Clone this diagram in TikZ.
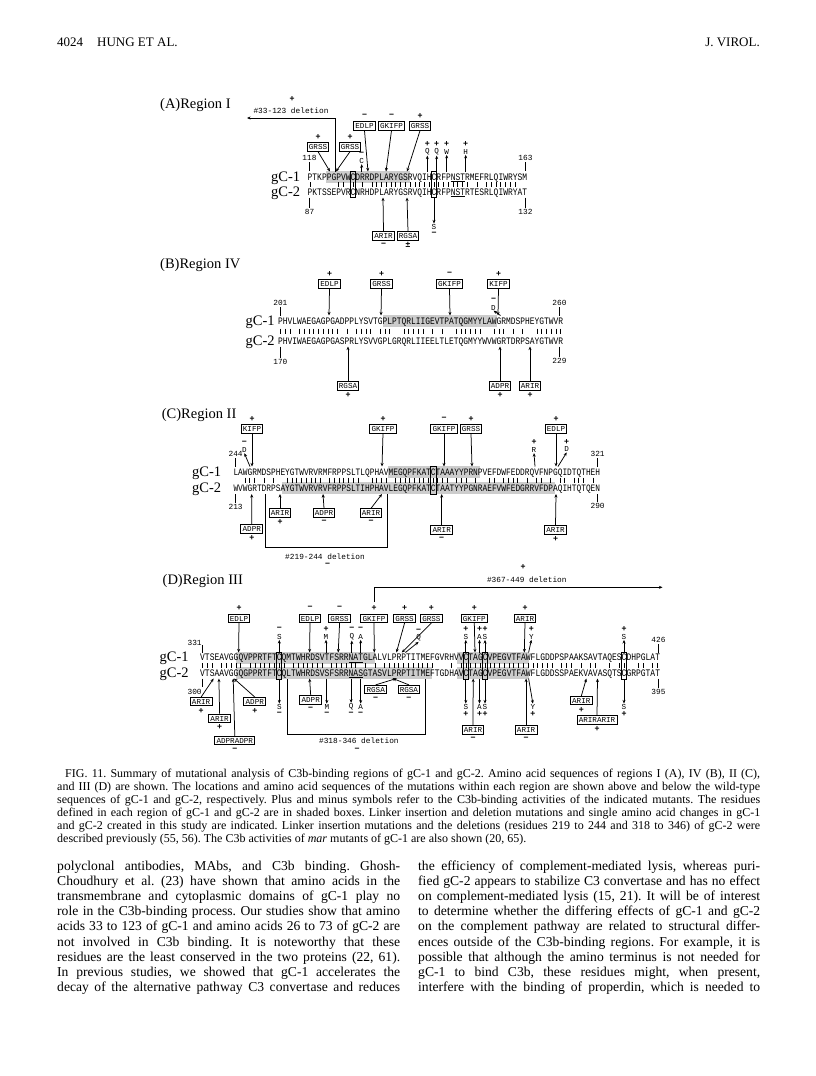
\documentclass[tikz,border=0pt]{standalone}
\usepackage{fontspec}
\usepackage{graphicx}
\setmainfont{Liberation Serif}
\newfontfamily\seqfont{Liberation Mono}
\newfontfamily\sgnfam{Liberation Sans}
\usetikzlibrary{arrows.meta}
\frenchspacing

\newcommand\boxfont{\seqfont\fontsize{7.6}{8}\selectfont}
\newcommand\mutfont{\seqfont\fontsize{7.6}{8}\selectfont}
\newcommand\numfont{\seqfont\fontsize{7.8}{8}\selectfont}
\newcommand\sgnfont{\sgnfam\bfseries\fontsize{8.5}{9}\selectfont}
\newcommand\gcfont{\fontsize{14.5}{15}\selectfont}
\newcommand\ttlfont{\fontsize{14.5}{16}\selectfont}
\newcommand\capfont{\fontsize{12}{13}\selectfont}
\newcommand\bodyfont{\fontsize{13.6}{15}\selectfont}
\newcommand\hdrfont{\fontsize{13}{14}\selectfont}

\tikzset{
  mbox/.style={draw, line width=0.9pt, inner xsep=1.8pt, inner ysep=1.5pt, font=\boxfont, text height=5.4pt, text depth=0pt},
  sgn/.style={inner sep=0pt, font=\sgnfont},
  mut/.style={inner sep=0.4pt, font=\mutfont},
  arr/.style={line width=0.75pt, -{Stealth[length=3.6pt,width=3pt]}},
  ln/.style={line width=0.75pt},
  num/.style={inner sep=0pt, font=\numfont},
  gclbl/.style={inner sep=0pt, anchor=base west, font=\gcfont},
  ttl/.style={inner sep=0pt, anchor=west, font=\ttlfont},
  seqtxt/.style={inner sep=0pt, font=\seqfont},
  idbar/.style={line width=0.6pt},
  shade/.style={fill=black!20},
  cbox/.style={draw, line width=0.6pt},
  uline/.style={line width=0.5pt},
  captxt/.style={inner sep=0pt, anchor=base west, font=\capfont},
  bodytxt/.style={inner sep=0pt, anchor=base west, font=\bodyfont},
  hdr/.style={inner sep=0pt, font=\hdrfont},
}

\ExplSyntaxOn
\tl_new:N \l__rs_x_tl
\tl_new:N \l__rs_y_tl
\tl_new:N \l__rs_f_tl
\NewDocumentCommand \seqpair { m m m m m m m }
 {
  \tl_set:Nx \l__rs_f_tl { \fp_eval:n { #3 / 0.6 } }
  \node[seqtxt,~anchor=base~west] (#1a) at (#2, #4 + 3.1) { \fontsize{\l__rs_f_tl}{10}\selectfont \scalebox{1}[1.25]{#6} };
  \node[seqtxt,~anchor=base~west] (#1b) at (#2, #5 + 3.1) { \fontsize{\l__rs_f_tl}{10}\selectfont \scalebox{1}[1.25]{#7} };
  \tl_set:Nx \l__rs_y_tl { \fp_eval:n { (#4 + #5) / 2 - 2.5 } }
  \int_step_inline:nn { \str_count:n {#6} }
   {
    \str_if_eq:eeT { \str_item:nn {#6} {##1} } { \str_item:nn {#7} {##1} }
     {
      \tl_set:Nx \l__rs_x_tl { \fp_eval:n { #2 + (##1 - 0.5) * #3 } }
      \draw[idbar] (\l__rs_x_tl, \l__rs_y_tl) -- ++(0,5);
     }
   }
 }
\ExplSyntaxOff

\newcommand\upbox[7]{%
  \node[mbox] (#1) at (#2,#3) {#4};
  \node[sgn] (#1s) at (#2,#3-10) {#5};
  \coordinate (#1t) at (#6,#7);
  \draw[arr] (#1.south) -- (#1t);}
\newcommand\downbox[7]{%
  \node[mbox] (#1) at (#2,#3) {#4};
  \node[sgn] (#1s) at (#2,#3+8.9) {#5};
  \coordinate (#1t) at (#6,#7);
  \draw[arr] (#1.north) -- (#1t);}
\newcommand\upmut[7]{%
  \node[mut] (#1) at (#2,#3) {#4};
  \node[sgn] (#1s) at (#2,#3-7.5) {#5};
  \coordinate (#1t) at (#6,#7);
  \draw[arr] (#1t) -- (#1.south);}
\newcommand\downmut[7]{%
  \node[mut] (#1) at (#2,#3) {#4};
  \node[sgn] (#1s) at (#2,#3+7) {#5};
  \coordinate (#1t) at (#6,#7);
  \draw[arr] (#1t) -- (#1.north);}
\newcommand\numup[5]{%
  \node[num] (#1) at (#2,#3) {#4};
  \coordinate (#1e) at (#2,#5);
  \draw[ln] ([yshift=-1.3pt]#1.south) -- (#1e);}
\newcommand\numdown[5]{%
  \node[num] (#1) at (#2,#3) {#4};
  \coordinate (#1e) at (#2,#5);
  \draw[ln] (#1e) -- ([yshift=1.3pt]#1.north);}

\begin{document}
\begin{tikzpicture}[x=1pt,y=-1pt]
\useasboundingbox (0,0) rectangle (816,1076);
\fill[white] (0,0) rectangle (816,1076);

% ---------------- header
\node[hdr, anchor=base west] (h1) at (57,46) {4024};
\node[hdr, anchor=base west] (h2) at (97,46) {HUNG ET AL.};
\node[hdr, anchor=base east] (h3) at (760,46) {J. VIROL.};

% ================= Region I
\node[ttl] (tA) at (160,105) {(A)Region I};
\fill[shade] (326,171) rectangle (410,183);
\seqpair{IS}{307.5}{4.77}{177}{192}{PTKPPGPVWCDRRDPLARYGSRVQIHCRFPNSTRMEFRLQIWRYSM}{PKTSSEPVRCNRHDPLARYGSRVQIHCRFPNSTRTESRLQIWRYAT}
\draw[cbox] (350.4,171) rectangle (355.2,197.5);
\draw[cbox] (431.5,171) rectangle (436.3,197.5);
\draw[uline] (450.6,181.2) -- (464.9,181.2);
\draw[uline] (450.6,196.2) -- (464.9,196.2);
\node[gclbl] (Ig1) at (271,181) {gC-1};
\node[gclbl] (Ig2) at (271,196) {gC-2};
\numup{In1}{309.5}{158}{118}{171}
\numup{In2}{525.5}{158}{163}{171}
\numdown{In3}{309.5}{212}{87}{197.5}
\numdown{In4}{525.5}{212}{132}{197.5}
\node[sgn] (Ids) at (292,99) {+};
\node[num] (Idt) at (291,111) {\#33-123 deletion};
\coordinate (IdA) at (335,171.5);
\coordinate (IdB) at (247,118);
\draw[arr] (IdA) |- (IdB);
\upbox{Ib1}{364.5}{126}{EDLP}{−}{368}{171.5}
\upbox{Ib2}{391.5}{126}{GKIFP}{−}{386}{171.5}
\upbox{Ib3}{420}{126}{GRSS}{+}{407}{171.5}
\upbox{Ib4}{318}{147}{GRSS}{+}{330}{171.5}
\upbox{Ib5}{350}{147}{GRSS}{+}{336}{171.5}
\upmut{Im1}{361.7}{161}{C}{−}{361.7}{171.5}
\upmut{Im2}{427.3}{151.7}{Q}{+}{427.3}{171.5}
\upmut{Im3}{436.7}{151.7}{Q}{+}{436.7}{171.5}
\upmut{Im4}{446.7}{151.7}{W}{+}{446.7}{171.5}
\upmut{Im5}{465.7}{151.7}{H}{+}{465.7}{171.5}
\downmut{Im6}{434}{226.7}{S}{−}{434}{198}
\downbox{Ib6}{383.5}{236}{ARIR}{−}{383}{197.5}
\downbox{Ib7}{408}{236}{RGSA}{±}{407}{197.5}

% ================= Region IV
\node[ttl] (tB) at (160,265) {(B)Region IV};
\fill[shade] (383,315) rectangle (497,327);
\seqpair{IVS}{278}{4.75}{321}{341}{PHVLWAEGAGPGADPPLYSVTGPLPTQRLIIGEVTPATQGMYYLAWGRMDSPHEYGTWVR}{PHVIWAEGAGPGASPRLYSVVGPLGRQRLIIEELTLETQGMYYWVWGRTDRPSAYGTWVR}
\node[gclbl] (IVg1) at (245.5,325) {gC-1};
\node[gclbl] (IVg2) at (245.5,345) {gC-2};
\numup{IVn1}{280.4}{303}{201}{315.5}
\numup{IVn2}{559.5}{303}{260}{315.5}
\numdown{IVn3}{280.4}{362}{170}{346.5}
\numdown{IVn4}{559.5}{361}{229}{346.5}
\upbox{IVb1}{329.5}{284}{EDLP}{+}{329}{315.5}
\upbox{IVb2}{381.5}{284}{GRSS}{+}{381}{315.5}
\upbox{IVb3}{449.5}{284}{GKIFP}{−}{450}{315.5}
\upbox{IVb4}{498.5}{284}{KIFP}{+}{498}{315.5}
\upmut{IVm1}{493.5}{307.5}{D}{−}{500.5}{315.5}
\downbox{IVb5}{348}{386}{RGSA}{+}{348}{346.5}
\downbox{IVb6}{500}{386}{ADPR}{+}{500}{346.5}
\downbox{IVb7}{530}{386}{ARIR}{+}{530}{346.5}

% ================= Region II
\node[ttl] (tC) at (161.7,415) {(C)Region II};
\fill[shade] (388,466) rectangle (480,478);
\fill[shade] (282,482.3) rectangle (555,494.3);
\seqpair{IIS}{233.3}{4.7}{472}{488.3}{LAWGRMDSPHEYGTWVRVRMFRPPSLTLQPHAVMEGQPFKATCTAAAYYPRNPVEFDWFEDDRQVFNPGQIDTQTHEH}{WVWGRTDRPSAYGTWVRVRVFRPPSLTIHPHAVLEGQPFKATCTAATYYPGNRAEFVWFEDGRRVFDPAQIHTQTQEN}
\draw[cbox] (430.3,466.5) rectangle (435.8,494);
\node[gclbl] (IIg1) at (192,476) {gC-1};
\node[gclbl] (IIg2) at (192,492.3) {gC-2};
\numup{IIn1}{235.6}{454}{244}{466.5}
\numup{IIn2}{597.6}{454}{321}{466.5}
\numdown{IIn3}{235.6}{507}{213}{494}
\numdown{IIn4}{597.6}{506}{290}{494}
\upbox{IIb1}{252}{429}{KIFP}{+}{252}{466.5}
\upbox{IIb2}{383}{429}{GKIFP}{+}{382}{466.5}
\upbox{IIb3}{444}{429}{GKIFP}{−}{444}{466.5}
\upbox{IIb4}{471}{429}{GRSS}{+}{472}{466.5}
\upbox{IIb5}{556}{429}{EDLP}{+}{556}{466.5}
\upmut{IIm1}{244.3}{450}{D}{−}{250}{466.5}
\upmut{IIm2}{534}{450}{R}{+}{535}{466.5}
\upmut{IIm3}{566.7}{449.3}{D}{+}{558}{466.5}
\downbox{IIb6}{251.8}{529}{ADPR}{+}{251.7}{494}
\downbox{IIb7}{280}{513}{ARIR}{+}{280}{494}
\downbox{IIb8}{324}{513}{ADPR}{−}{323}{494}
\downbox{IIb9}{371}{513}{ARIR}{−}{382}{494}
\downbox{IIb10}{441.7}{530}{ARIR}{−}{441.7}{494}
\downbox{IIb11}{555.5}{530}{ARIR}{+}{556}{494}
\coordinate (IIdA) at (265,494);
\coordinate (IIdB) at (387,494);
\draw[ln] (IIdA) -- ++(0,53) -| (IIdB);
\node[num] (IIdt) at (325,556.7) {\#219-244 deletion};
\node[sgn] (IIds) at (327.5,565) {−};

% ================= Region III
\node[ttl] (tD) at (162.5,580.7) {(D)Region III};
\fill[shade] (235.7,651.7) rectangle (375,663.7);
\fill[shade] (457,651.7) rectangle (528.6,663.7);
\fill[shade] (235.7,667.3) rectangle (432,679.3);
\fill[shade] (457,667.3) rectangle (528.6,679.3);
\seqpair{IIIS}{200}{4.79}{657.7}{673.3}{VTSEAVGGQVPPRTFTCQMTWHRDSVTFSRRNATGLALVLPRPTITMEFGVRHVVCTAGCVPEGVTFAWFLGDDPSPAAKSAVTAQESCDHPGLAT}{VTSAAVGGQGPPRTFTCQLTWHRDSVSFSRRNASGTASVLPRPTITMEFTGDHAVCTAGCVPEGVTFAWFLGDDSSPAEKVAVASQTSCGRPGTAT}
\draw[cbox] (276.6,652) rectangle (281.4,679);
\draw[cbox] (463.5,652) rectangle (468.2,679);
\draw[cbox] (482.6,652) rectangle (487.4,679);
\draw[cbox] (621.5,652) rectangle (626.3,679);
\draw[uline] (348.5,661.8) -- (362.9,661.8);
\draw[uline] (348.5,677.4) -- (362.9,677.4);
\node[gclbl] (IIIg1) at (159.5,661.7) {gC-1};
\node[gclbl] (IIIg2) at (159.5,677.3) {gC-2};
\node[num] (IIIn1) at (194.6,643.3) {331};
\coordinate (IIIn1a) at (202.4,645);
\coordinate (IIIn1b) at (202.4,652.5);
\draw[ln] (IIIn1a) -- (IIIn1b);
\numup{IIIn2}{658.5}{640}{426}{652.5}
\node[num] (IIIn3) at (194.6,691.7) {300};
\coordinate (IIIn3a) at (202.4,678.5);
\coordinate (IIIn3b) at (202.4,686.5);
\draw[ln] (IIIn3a) -- (IIIn3b);
\numdown{IIIn4}{658.5}{692.3}{395}{678.5}
\node[sgn] (IIIds) at (523.2,567.3) {+};
\node[num] (IIIdt) at (526.8,580) {\#367-449 deletion};
\coordinate (IIIdA) at (374.3,602);
\coordinate (IIIdB) at (662.5,587.3);
\draw[arr] (IIIdA) |- (IIIdB);
\upbox{IIIb1}{239}{618.3}{EDLP}{+}{238.6}{652.5}
\upbox{IIIb2}{310}{618.3}{EDLP}{−}{309.6}{652.5}
\upbox{IIIb3}{339.6}{618.3}{GRSS}{−}{338.2}{652.5}
\upbox{IIIb4}{374}{618.3}{GKIFP}{+}{374.3}{652.5}
\upbox{IIIb5}{404.6}{618.3}{GRSS}{+}{396.4}{652.5}
\upbox{IIIb6}{431.4}{618.3}{GRSS}{+}{401.8}{652.5}
\upbox{IIIb7}{474.3}{618.3}{GKIFP}{+}{475}{652.5}
\upbox{IIIb8}{525}{618.3}{ARIR}{+}{524.3}{652.5}
\upmut{IIIm1}{279.3}{636.7}{S}{−}{279.3}{652}
\upmut{IIIm2}{326}{636.7}{M}{+}{326}{652.5}
\upmut{IIIm3}{351.8}{636.7}{Q}{−}{351.8}{652.5}
\upmut{IIIm4}{360.7}{636.7}{A}{−}{360.7}{652.5}
\upmut{IIIm5}{418.6}{638}{Q}{−}{405.4}{652.5}
\upmut{IIIm6}{465.8}{636.7}{S}{+}{465.8}{652}
\upmut{IIIm7}{479.5}{636.7}{A}{+}{479.5}{652.5}
\upmut{IIIm8}{485}{636.7}{S}{+}{485}{652}
\upmut{IIIm9}{531.4}{636.7}{Y}{+}{528.6}{652.5}
\upmut{IIIm10}{624}{636.7}{S}{+}{624}{652}
\downmut{IIIm11}{279.3}{706.7}{S}{−}{279.3}{679}
\downmut{IIIm12}{326.8}{706.7}{M}{−}{326.8}{678.5}
\downmut{IIIm13}{351.1}{706.7}{Q}{−}{351.1}{678.5}
\downmut{IIIm14}{360.7}{706.7}{A}{−}{360.7}{678.5}
\downmut{IIIm15}{465.8}{706.7}{S}{+}{465.8}{679}
\downmut{IIIm16}{479.5}{706.7}{A}{+}{479.5}{678.5}
\downmut{IIIm17}{485}{706.7}{S}{+}{485}{679}
\downmut{IIIm18}{532.9}{706.7}{Y}{+}{528.6}{678.5}
\downmut{IIIm19}{624}{706.7}{S}{+}{624}{679}
\downbox{IIIb9}{201.1}{701.7}{ARIR}{+}{213.6}{678.5}
\downbox{IIIb10}{219.6}{718.3}{ARIR}{+}{218.9}{678.5}
\downbox{IIIb11}{234.8}{740.7}{ADPRADPR}{−}{233.2}{678.5}
\downbox{IIIb12}{254.8}{701.7}{ADPR}{+}{233.9}{678.5}
\downbox{IIIb13}{310.7}{700}{ADPR}{−}{309.6}{678.5}
\downbox{IIIb14}{375.7}{689.5}{RGSA}{−}{396.4}{678.5}
\downbox{IIIb15}{408.9}{689.5}{RGSA}{−}{392.9}{678.5}
\downbox{IIIb16}{473}{730}{ARIR}{−}{473.2}{678.5}
\downbox{IIIb17}{526.1}{730}{ARIR}{−}{526.1}{678.5}
\downbox{IIIb18}{581.3}{700.7}{ARIR}{+}{586.4}{678.5}
\downbox{IIIb19}{597}{720}{ARIRARIR}{+}{597.5}{678.5}
\coordinate (IIIdC) at (287.5,679);
\coordinate (IIIdD) at (425,679);
\draw[ln] (IIIdC) -- ++(0,55) -| (IIIdD);
\node[num] (IIIdt2) at (358.9,741) {\#318-346 deletion};
\node[sgn] (IIIds2) at (357.1,750) {−};

% ================= caption
\node[captxt] (c1) at (65,777) {\hbox to 695pt{FIG. 11. Summary of mutational analysis of C3b-binding regions of gC-1 and gC-2. Amino acid sequences of regions I (A), IV (B), II (C),}};
\node[captxt] (c2) at (57,790) {\hbox to 703pt{and III (D) are shown. The locations and amino acid sequences of the mutations within each region are shown above and below the wild-type}};
\node[captxt] (c3) at (57,803) {\hbox to 703pt{sequences of gC-1 and gC-2, respectively. Plus and minus symbols refer to the C3b-binding activities of the indicated mutants. The residues}};
\node[captxt] (c4) at (57,816) {\hbox to 703pt{defined in each region of gC-1 and gC-2 are in shaded boxes. Linker insertion and deletion mutations and single amino acid changes in gC-1}};
\node[captxt] (c5) at (57,829) {\hbox to 703pt{and gC-2 created in this study are indicated. Linker insertion mutations and the deletions (residues 219 to 244 and 318 to 346) of gC-2 were}};
\node[captxt] (c6) at (57,842) {described previously (55, 56). The C3b activities of \textit{mar} mutants of gC-1 are also shown (20, 65).};

% ================= body, left column
\node[bodytxt] (l1) at (57,870.5) {\hbox to 343pt{polyclonal antibodies, MAbs, and C3b binding. Ghosh-}};
\node[bodytxt] (l2) at (57,885.6) {\hbox to 343pt{Choudhury et al. (23) have shown that amino acids in the}};
\node[bodytxt] (l3) at (57,900.7) {\hbox to 343pt{transmembrane and cytoplasmic domains of gC-1 play no}};
\node[bodytxt] (l4) at (57,915.8) {\hbox to 343pt{role in the C3b-binding process. Our studies show that amino}};
\node[bodytxt] (l5) at (57,930.9) {\hbox to 343pt{acids 33 to 123 of gC-1 and amino acids 26 to 73 of gC-2 are}};
\node[bodytxt] (l6) at (57,946.0) {\hbox to 343pt{not involved in C3b binding. It is noteworthy that these}};
\node[bodytxt] (l7) at (57,961.1) {\hbox to 343pt{residues are the least conserved in the two proteins (22, 61).}};
\node[bodytxt] (l8) at (57,976.2) {\hbox to 343pt{In previous studies, we showed that gC-1 accelerates the}};
\node[bodytxt] (l9) at (57,991.3) {\hbox to 343pt{decay of the alternative pathway C3 convertase and reduces}};
% right column
\node[bodytxt] (r1) at (418,870.5) {\hbox to 342pt{the efficiency of complement-mediated lysis, whereas puri-}};
\node[bodytxt] (r2) at (418,885.6) {\hbox to 342pt{fied gC-2 appears to stabilize C3 convertase and has no effect}};
\node[bodytxt] (r3) at (418,900.7) {\hbox to 342pt{on complement-mediated lysis (15, 21). It will be of interest}};
\node[bodytxt] (r4) at (418,915.8) {\hbox to 342pt{to determine whether the differing effects of gC-1 and gC-2}};
\node[bodytxt] (r5) at (418,930.9) {\hbox to 342pt{on the complement pathway are related to structural differ-}};
\node[bodytxt] (r6) at (418,946.0) {\hbox to 342pt{ences outside of the C3b-binding regions. For example, it is}};
\node[bodytxt] (r7) at (418,961.1) {\hbox to 342pt{possible that although the amino terminus is not needed for}};
\node[bodytxt] (r8) at (418,976.2) {\hbox to 342pt{gC-1 to bind C3b, these residues might, when present,}};
\node[bodytxt] (r9) at (418,991.3) {\hbox to 342pt{interfere with the binding of properdin, which is needed to}};
\end{tikzpicture}
\end{document}
